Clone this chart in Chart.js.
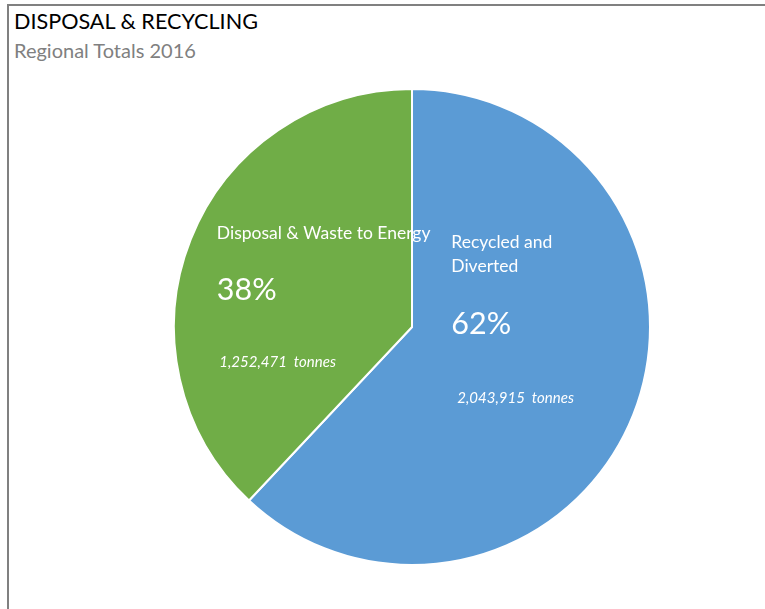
<!DOCTYPE html>
<html>
<head>
<meta charset="utf-8">
<script src="https://cdn.jsdelivr.net/npm/chart.js@4/dist/chart.umd.min.js"></script>
<style>
  html, body { margin: 0; padding: 0; background: #fff; }
  #wrap { position: relative; width: 765px; height: 609px; overflow: hidden; }
  #frame { position: absolute; left: 7px; top: 4px; right: -4px; bottom: -4px;
           border-left: 2px solid #808080; border-top: 2px solid #808080; }
  #title { position: absolute; left: 14px; top: 8px; font: 21.6px Lato, sans-serif; color: #000; }
  #subtitle { position: absolute; left: 14px; top: 38px; font: 20px Lato, sans-serif; color: #808080; }
  canvas { position: absolute; left: 0; top: 0; }
</style>
</head>
<body>
<div id="wrap">
  <div id="frame"></div>
  <div id="title">DISPOSAL &amp; RECYCLING</div>
  <div id="subtitle">Regional Totals 2016</div>
  <canvas id="pieChart" width="765" height="609"></canvas>
</div>
<script>
// Regional totals, tonnes
const categories = ['Recycled and Diverted', 'Disposal & Waste to Energy'];
const tonnes = [2043915, 1252471];
const percentLabels = ['62%', '38%'];
const nameLines = [['Recycled and', 'Diverted'], ['Disposal & Waste to Energy']];
const sliceColors = ['#5B9BD5', '#70AD47'];

// where each slice's text block sits, as fractions of the radius from the centre
const labelSpots = [
    { dx: 0.165, name: -0.33, pct: 0.03, ton: 0.32, tdx: 0.19 },
    { dx: -0.82, name: -0.37, pct: -0.115, ton: 0.17, tdx: -0.81 }
];

const sliceText = {
    id: 'sliceText',
    afterDatasetsDraw(chart) {
        const ctx = chart.ctx;
        const arcs = chart.getDatasetMeta(0).data;
        ctx.save();
        ctx.fillStyle = '#fff';
        ctx.textAlign = 'left';
        ctx.textBaseline = 'alphabetic';
        arcs.forEach((arc, i) => {
            const cx = arc.x, cy = arc.y, r = arc.outerRadius;
            const s = labelSpots[i];
            ctx.font = '17.5px Lato, sans-serif';
            nameLines[i].forEach((line, j) => {
                ctx.fillText(line, cx + s.dx * r, cy + s.name * r + j * 24);
            });
            ctx.font = '30.5px Lato, sans-serif';
            ctx.fillText(percentLabels[i], cx + s.dx * r, cy + s.pct * r);
            ctx.font = 'italic 15px Lato, sans-serif';
            ctx.fillText(tonnes[i].toLocaleString('en-US') + '  tonnes', cx + s.tdx * r, cy + s.ton * r);
        });
        ctx.restore();
    }
};

new Chart(document.getElementById('pieChart').getContext('2d'), {
    type: 'pie',
    data: {
        labels: categories,
        datasets: [{
            data: tonnes,
            backgroundColor: sliceColors,
            borderColor: '#fff',
            borderWidth: 2
        }]
    },
    options: {
        responsive: false,
        animation: false,
        layout: { padding: { top: 88, bottom: 43, left: 59, right: 0 } },
        plugins: {
            legend: { display: false },
            tooltip: { enabled: false }
        }
    },
    plugins: [sliceText]
});
</script>
</body>
</html>
